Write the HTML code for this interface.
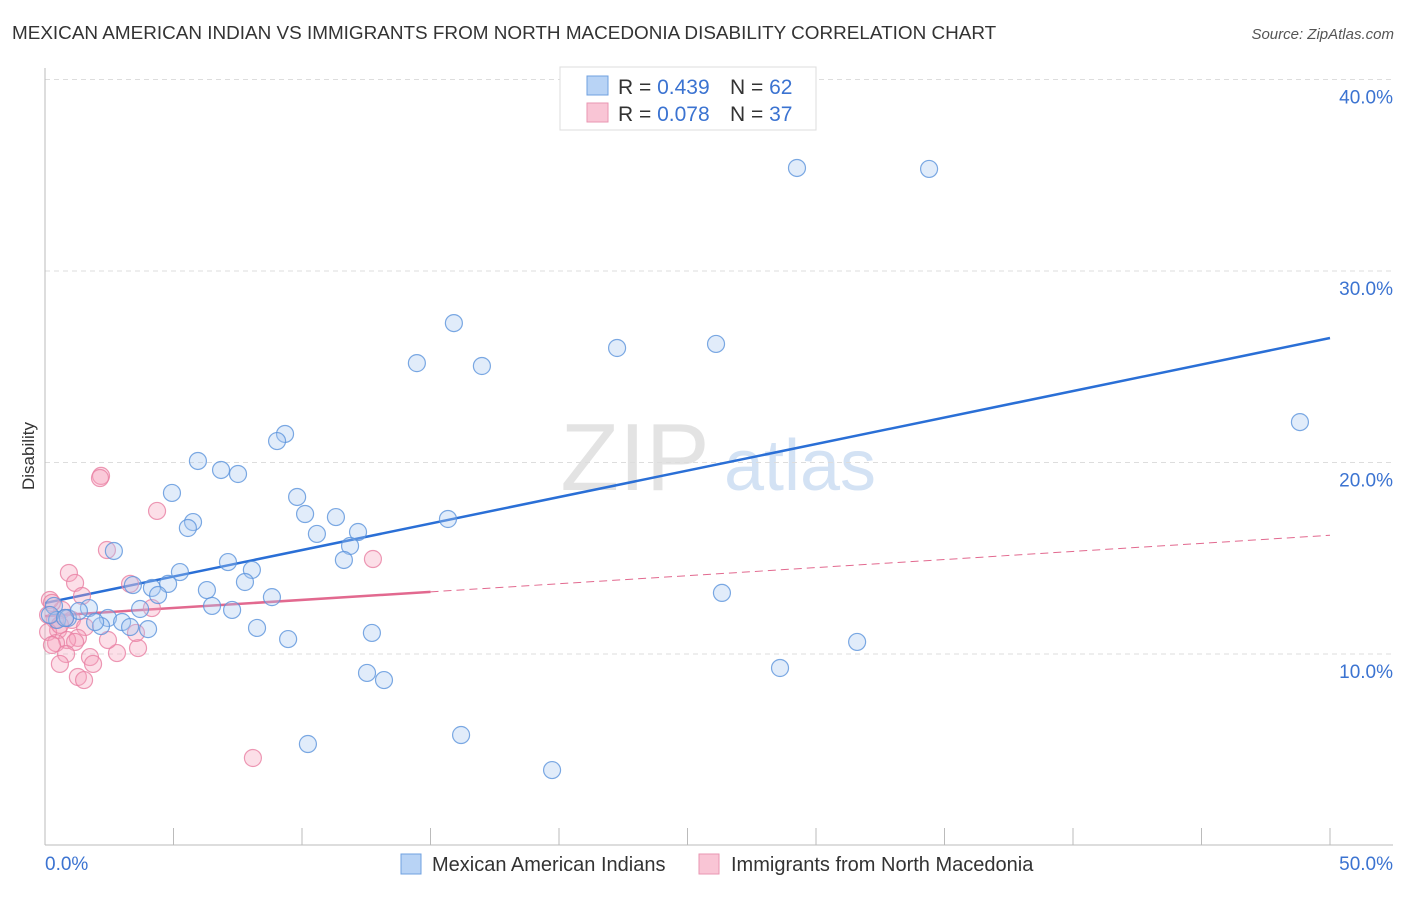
<!DOCTYPE html>
<html><head><meta charset="utf-8"><style>
body{margin:0;background:#fff;font-family:"Liberation Sans",sans-serif;}
svg text{font-family:"Liberation Sans",sans-serif;}
</style></head><body>
<svg id="chart" width="1406" height="892" xmlns="http://www.w3.org/2000/svg">
<text x="12" y="39" font-size="18.9" fill="#333">MEXICAN AMERICAN INDIAN VS IMMIGRANTS FROM NORTH MACEDONIA DISABILITY CORRELATION CHART</text>
<text x="1394" y="39" font-size="15" fill="#555" font-style="italic" text-anchor="end">Source: ZipAtlas.com</text>
<text x="0" y="0" transform="translate(34,456) rotate(-90)" font-size="17" fill="#333" text-anchor="middle">Disability</text>
<g>
<text x="635" y="490" font-size="96" fill="#ddd" font-family="Liberation Serif" text-anchor="middle" opacity="0.8">ZIP</text>
<text x="800" y="490" font-size="72" fill="#c9dbf2" text-anchor="middle" opacity="0.8">atlas</text>
</g>
<g id="grid"></g><g id="axes"></g><g id="lines"></g><g id="pts"></g>
<g>
<rect x="560" y="67" width="256" height="63" fill="#fff" stroke="#ddd"/>
<rect x="587" y="76" width="21" height="19" fill="#b8d3f5" stroke="#6fa0e0"/>
<rect x="587" y="103" width="21" height="19" fill="#f9c5d5" stroke="#e996b2"/>
<text x="618" y="94" font-size="21" fill="#333">R = <tspan fill="#3b73d1">0.439</tspan></text>
<text x="730" y="94" font-size="21" fill="#333">N = <tspan fill="#3b73d1">62</tspan></text>
<text x="618" y="121" font-size="21" fill="#333">R = <tspan fill="#3b73d1">0.078</tspan></text>
<text x="730" y="121" font-size="21" fill="#333">N = <tspan fill="#3b73d1">37</tspan></text>
</g>
<g>
<rect x="401" y="854" width="20" height="20" fill="#b8d3f5" stroke="#6fa0e0"/>
<text x="432" y="871" font-size="20" fill="#333">Mexican American Indians</text>
<rect x="699" y="854" width="20" height="20" fill="#f9c5d5" stroke="#e996b2"/>
<text x="731" y="871" font-size="20" fill="#333">Immigrants from North Macedonia</text>
</g>
</svg>
<script>
const yTicks=[10,20,30,40];
const xTickLabels=["0.0%","50.0%"];
const blueX=[29.26,34.40,15.91,14.47,17.00,22.26,26.11,48.83,9.34,9.03,5.95,6.85,7.51,4.94,9.81,10.12,5.76,5.56,10.58,11.32,12.18,11.87,11.63,15.68,2.68,7.12,8.05,5.25,7.78,4.79,4.16,3.42,4.40,6.30,8.83,6.50,7.28,3.70,1.71,2.45,3.00,3.31,4.01,2.18,1.95,8.25,12.72,9.46,0.35,0.47,0.19,0.89,1.32,26.34,31.60,28.60,12.53,13.19,10.23,16.19,19.73,0.78];
const blueY=[35.38,35.33,27.28,25.19,25.04,25.98,26.19,22.11,21.49,21.12,20.08,19.61,19.40,18.41,18.20,17.31,16.89,16.58,16.27,17.15,16.37,15.64,14.91,17.05,15.38,14.80,14.39,14.28,13.76,13.66,13.45,13.60,13.08,13.34,12.97,12.51,12.30,12.35,12.40,11.88,11.67,11.41,11.30,11.46,11.67,11.36,11.10,10.78,12.51,11.78,12.04,11.88,12.25,13.19,10.63,9.27,9.01,8.64,5.30,5.77,3.94,11.88];
const pinkX=[2.18,2.14,4.36,2.41,0.93,1.17,3.31,4.16,1.44,0.66,0.19,0.39,0.12,1.05,0.78,0.51,1.56,0.12,1.28,0.86,0.43,1.17,0.27,2.80,3.62,0.82,1.75,1.87,0.58,1.28,1.52,12.76,8.09,3.54,2.45,0.27,0.58];
const pinkY=[19.30,19.19,17.47,15.43,14.23,13.71,13.66,12.40,13.03,12.30,12.82,11.78,12.04,11.78,11.88,11.25,11.41,11.15,10.84,10.73,10.57,10.63,10.47,10.05,10.31,10.00,9.84,9.48,9.48,8.80,8.64,14.96,4.57,11.10,10.73,12.67,11.52];
const blueTrend=[12.66,26.50];
const pinkTrend=[11.98,16.2];
const pinkSolidEnd=15;
const NS="http://www.w3.org/2000/svg";
function sx(v){return 45+v*25.7;}
function sy(v){return 845.5-v*19.15;}
function mk(t,a,p){const e=document.createElementNS(NS,t);for(const k in a)e.setAttribute(k,a[k]);p.appendChild(e);return e;}
const grid=document.getElementById('grid'),axes=document.getElementById('axes'),lines=document.getElementById('lines'),pts=document.getElementById('pts');
yTicks.forEach(v=>{
 const l=mk('line',{x1:45,x2:1393,y1:sy(v),y2:sy(v),stroke:'#ddd','stroke-dasharray':'5,4'},grid);
 
 
 const t=mk('text',{x:1393,y:sy(v)+24,'font-size':19,fill:'#3b73d1','text-anchor':'end'},grid);
 t.textContent=v.toFixed(1)+'%';
 
 
});
let a=mk('line',{x1:45,x2:45,y1:68,y2:845,stroke:'#bbb'},axes);


a=mk('line',{x1:45,x2:1393,y1:845,y2:845,stroke:'#bbb'},axes);


for(let i=1;i<=10;i++){const t=mk('line',{x1:sx(i*5),x2:sx(i*5),y1:828,y2:845,stroke:'#bbb'},axes);
 
 }
[[0,'start',45],[1,'end',1393]].forEach(([i,an,x])=>{const t=mk('text',{x:x,y:870,'font-size':19,fill:'#3b73d1','text-anchor':an},axes);t.textContent=xTickLabels[i];
 
 });
function draw(X,Y,fill,stroke,name){X.forEach((x,i)=>{const c=mk('circle',{cx:sx(x),cy:sy(Y[i]),r:8.5,fill:fill,'fill-opacity':0.35,stroke:stroke,'stroke-width':1.2,'stroke-opacity':0.8},pts);
 
 });}
draw(pinkX,pinkY,'#f5a3bc','#e87fa3','pink-point');
draw(blueX,blueY,'#a9c8f0','#5b93dc','blue-point');
let ln=mk('line',{x1:sx(0),y1:sy(blueTrend[0]),x2:sx(50),y2:sy(blueTrend[1]),stroke:'#2a6fd6','stroke-width':2.5},lines);


const pm=pinkTrend[0]+(pinkTrend[1]-pinkTrend[0])*pinkSolidEnd/50;
ln=mk('line',{x1:sx(0),y1:sy(pinkTrend[0]),x2:sx(pinkSolidEnd),y2:sy(pm),stroke:'#e2698f','stroke-width':2.5},lines);


ln=mk('line',{x1:sx(pinkSolidEnd),y1:sy(pm),x2:sx(50),y2:sy(pinkTrend[1]),stroke:'#e2698f','stroke-width':1,'stroke-dasharray':'8,5'},lines);


</script>
</body></html>
